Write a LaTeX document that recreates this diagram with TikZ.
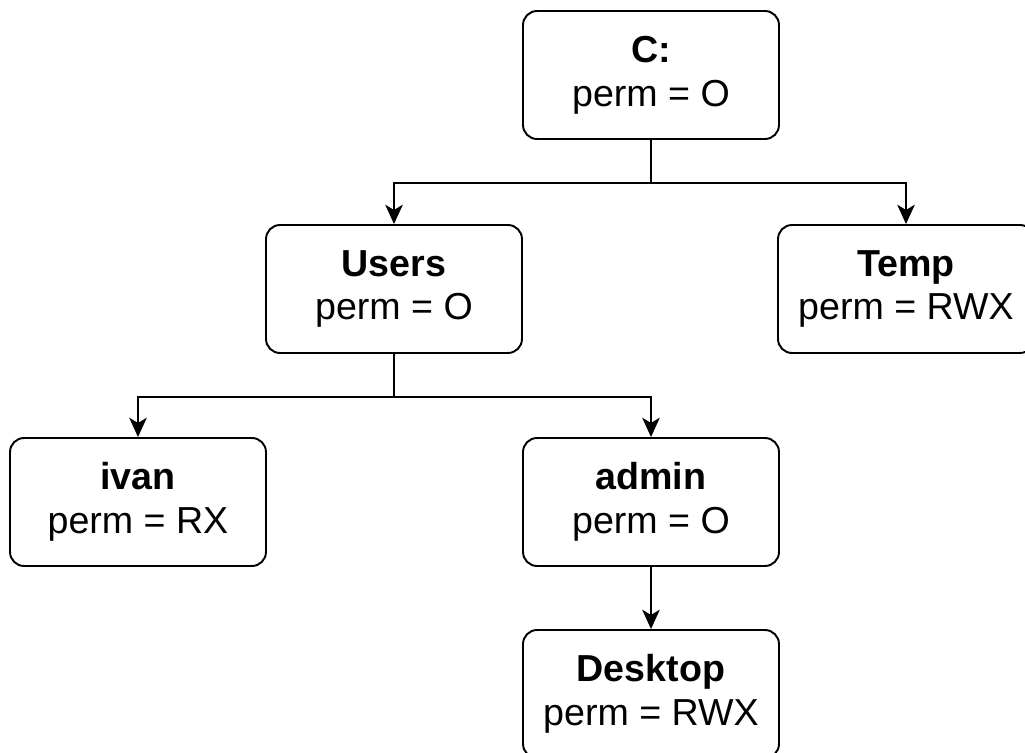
\documentclass[tikz,border=0pt]{standalone}
\usepackage{fontspec}
\setmainfont{Liberation Sans}
\usetikzlibrary{arrows.meta, calc}

\begin{document}
\begin{tikzpicture}[x=0.02cm, y=-0.02cm, line width=1.1pt, >={Stealth[length=11pt, width=10pt, inset=3pt]},
        folder/.style={draw, rounded corners=0.28cm, minimum width=5.12cm, minimum height=2.56cm,
            align=center, inner sep=0pt, font=\fontsize{21.4}{25}\selectfont}]

        % ==========================================
        % 0. Canvas
        % ==========================================
        \useasboundingbox (0,0) rectangle (1025,753);
        \clip (0,0) rectangle (1025,753);

        % ==========================================
        % 1. Folders
        % ==========================================
        \node[folder] (c) at (651,75) {\textbf{C:}\\perm = O};
        \node[folder] (users) at (394,289) {\textbf{Users}\\perm = O};
        \node[folder] (temp) at (906,289) {\textbf{Temp}\\perm = RWX};
        \node[folder] (ivan) at (138,502) {\textbf{ivan}\\perm = RX};
        \node[folder] (admin) at (651,502) {\textbf{admin}\\perm = O};
        \node[folder] (desktop) at (651,694) {\textbf{Desktop}\\perm = RWX};

        % ==========================================
        % 2. Links
        % ==========================================
        \draw[->] (c.south) -- ++(0,43) -| (users.north);
        \draw[->] (c.south) -- ++(0,43) -| (temp.north);
        \draw[->] (users.south) -- ++(0,43) -| (ivan.north);
        \draw[->] (users.south) -- ++(0,43) -| (admin.north);
        \draw[->] (admin.south) -- (desktop.north);

\end{tikzpicture}
\end{document}
